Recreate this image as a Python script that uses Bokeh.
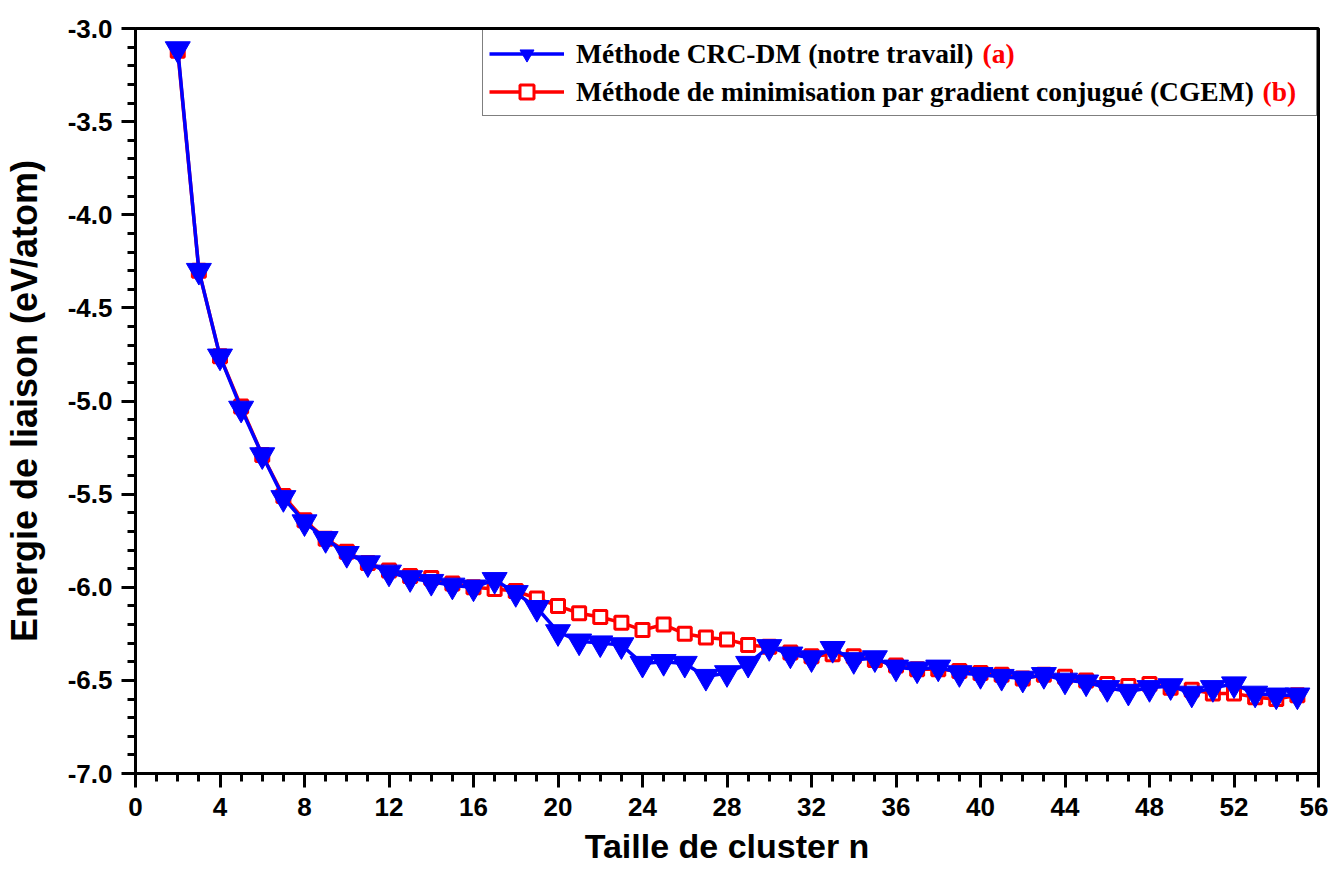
from bokeh.plotting import figure
from bokeh.models import (Range1d, SingleIntervalTicker, NumeralTickFormatter,
                          Legend, LegendItem, Label)
from bokeh.embed import file_html
from bokeh.resources import INLINE

# ---- data ----
cluster_n = list(range(2, 56))
crc_dm = [-3.11, -4.30, -4.76, -5.04, -5.29, -5.52, -5.65, -5.74, -5.82, -5.87,
          -5.92, -5.95, -5.97, -5.99, -6.00, -5.96, -6.03, -6.11, -6.24, -6.29,
          -6.30, -6.31, -6.41, -6.40, -6.41, -6.48, -6.46, -6.41, -6.32, -6.36,
          -6.38, -6.33, -6.39, -6.38, -6.43, -6.44, -6.43, -6.46, -6.47, -6.48,
          -6.49, -6.47, -6.50, -6.51, -6.54, -6.56, -6.54, -6.53, -6.57, -6.54,
          -6.52, -6.57, -6.58, -6.58]
cgem = [-3.12, -4.30, -4.76, -5.03, -5.29, -5.51, -5.64, -5.74, -5.81, -5.87,
        -5.91, -5.94, -5.95, -5.98, -6.00, -6.01, -6.02, -6.06, -6.10, -6.14,
        -6.16, -6.19, -6.23, -6.20, -6.25, -6.27, -6.28, -6.31, -6.32, -6.35,
        -6.37, -6.36, -6.37, -6.39, -6.42, -6.44, -6.44, -6.45, -6.46, -6.47,
        -6.49, -6.47, -6.48, -6.50, -6.52, -6.53, -6.52, -6.54, -6.55, -6.57,
        -6.57, -6.59, -6.60, -6.58]
label_a = "Méthode CRC-DM (notre travail)"
label_b = "Méthode de minimisation par gradient conjugué (CGEM)"
suffix_a = "(a)"
suffix_b = "(b)"
x_title = "Taille de cluster n"
y_title = "Energie de liaison (eV/atom)"

X0, X1, Y0, Y1 = 0, 56, -7, -3
FW, FH = 1183, 745
p = figure(frame_width=FW, frame_height=FH, output_backend="svg", toolbar_location=None,
           x_range=Range1d(X0, X1), y_range=Range1d(Y0, Y1),
           min_border_left=135, min_border_right=10, min_border_top=28, min_border_bottom=95)
p.background_fill_color = "white"
p.border_fill_color = "white"
p.xgrid.visible = False
p.ygrid.visible = False
p.outline_line_color = "black"
p.outline_line_width = 3

p.xaxis.ticker = SingleIntervalTicker(interval=4, num_minor_ticks=4)
p.yaxis.ticker = SingleIntervalTicker(interval=0.5, num_minor_ticks=5)
p.yaxis.formatter = NumeralTickFormatter(format="0.0")
for ax in (p.xaxis[0], p.yaxis[0]):
    ax.axis_line_width = 3
    ax.major_tick_line_width = 3
    ax.minor_tick_line_width = 3
    ax.major_tick_out = 14
    ax.major_tick_in = 0
    ax.minor_tick_out = 8
    ax.minor_tick_in = 0
    ax.major_label_text_font = "Liberation Sans"
    ax.major_label_text_font_style = "bold"
    ax.major_label_text_font_size = "26px"
    ax.major_label_text_color = "black"
    ax.axis_label_text_font = "Liberation Sans"
    ax.axis_label_text_font_style = "bold"
    ax.axis_label_text_color = "black"
p.xaxis.major_label_standoff = 10
p.yaxis.major_label_standoff = 9
p.xaxis.axis_label = x_title
p.yaxis.axis_label = y_title
p.xaxis.axis_label_text_font_size = "34px"
p.yaxis.axis_label_text_font_size = "36px"
p.xaxis.axis_label_standoff = 8
p.yaxis.axis_label_standoff = 20

PAD, GW, STAND, LW, LH = 6, 75, 12, 734, 35
leg_w = 2 * PAD + GW + STAND + LW
text_x0 = FW - 1 - leg_w + PAD + GW + STAND
row1_y = FH - 1 - PAD - LH / 2
row2_y = row1_y - LH - 3


def sx2d(sx):
    return X0 + (X1 - X0) * sx / FW


def sy2d(sy):
    return Y0 + (Y1 - Y0) * sy / FH


# red "(a)" / "(b)" suffixes after the legend labels
for txt, off, yy in ((suffix_a, 405, row1_y), (suffix_b, 685, row2_y)):
    p.add_layout(Label(x=sx2d(text_x0 + off), y=sy2d(yy),
                       text=txt, text_color="#ff0000", text_font="Liberation Serif",
                       text_font_style="bold", text_font_size="27.5px",
                       text_baseline="middle", text_align="left"))

r_line_b = p.line(cluster_n, cgem, line_color="#ff0000", line_width=3.5)
r_mark_b = p.scatter(cluster_n, cgem, marker="square", size=13, line_color="#ff0000",
                     line_width=3, fill_color="white")
r_line_a = p.line(cluster_n, crc_dm, line_color="#0000ff", line_width=3.5)
r_mark_a = p.scatter(cluster_n, crc_dm, marker="inverted_triangle", size=25,
                     line_color="#0000ff", fill_color="#0000ff")

legend = Legend(items=[LegendItem(label=label_a, renderers=[r_line_a, r_mark_a]),
                       LegendItem(label=label_b, renderers=[r_line_b, r_mark_b])],
                location="top_right", margin=1, padding=PAD, spacing=3,
                glyph_width=GW, glyph_height=LH, label_height=LH, label_width=LW,
                label_standoff=STAND,
                label_text_font="Liberation Serif", label_text_font_style="bold",
                label_text_font_size="27.5px", label_text_color="black",
                border_line_color="black", border_line_width=1.5,
                background_fill_color="white", background_fill_alpha=0.0)
p.add_layout(legend)

open("out.html", "w").write(file_html(p, INLINE))
